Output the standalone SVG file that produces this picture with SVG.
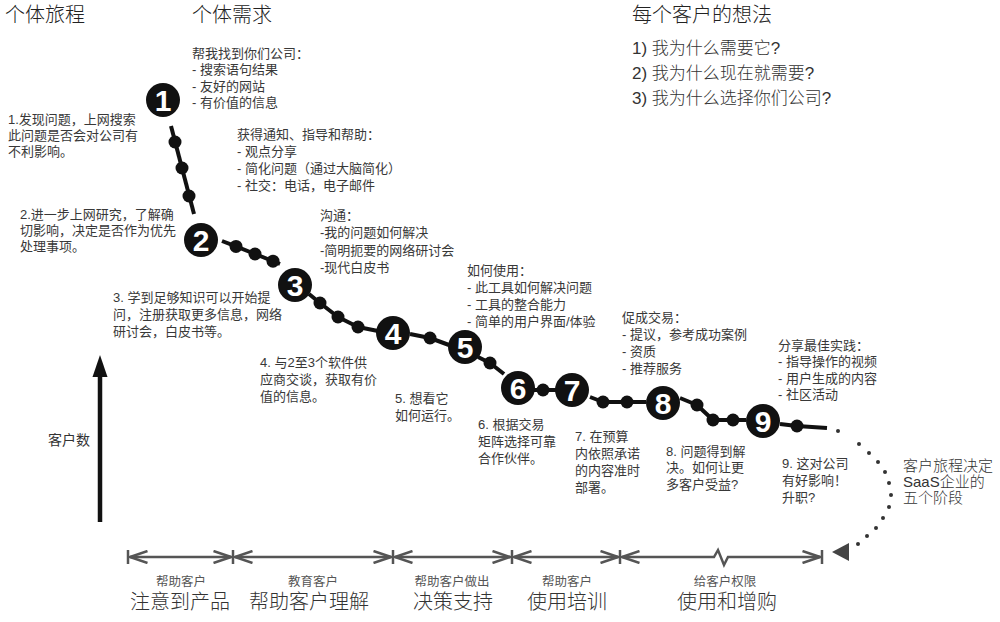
<svg xmlns="http://www.w3.org/2000/svg" width="1000" height="622" viewBox="0 0 1000 622">
<defs>
<style>
text{font-family:"Liberation Sans","Noto Sans CJK SC",sans-serif;}
.h{font-size:20px;fill:#222;font-weight:300;}
.q{font-size:17px;fill:#333;font-weight:300;}
.t{font-size:13px;fill:#383838;}
.r{font-size:15px;fill:#333;font-weight:300;}
.s{font-size:12.5px;fill:#555;text-anchor:middle;}
.b{font-size:20px;fill:#333;text-anchor:middle;font-weight:300;}
.node{fill:#111;}
.num{font-size:30px;font-weight:bold;fill:#fff;text-anchor:middle;}
.chain{fill:none;stroke:#111;stroke-width:4;stroke-linejoin:round;}
.bead{fill:#111;}
.span{fill:none;stroke:#555;stroke-width:2.5;marker-start:url(#chev);marker-end:url(#chev);}
.tick{stroke:#555;stroke-width:2.5;}
.dot{fill:#333;}
</style>
<marker id="chev" viewBox="0 0 20 14" markerUnits="userSpaceOnUse" markerWidth="20" markerHeight="14" refX="18.5" refY="7" orient="auto-start-reverse">
<path d="M1,1 L18.5,7 L1,13" fill="none" stroke="#555" stroke-width="2.5"/>
</marker>
</defs>
<rect width="1000" height="622" fill="#fff"/>

<g id="headings">
<text class="h" x="5" y="22">个体旅程</text>
<text class="h" x="192" y="22">个体需求</text>
<text class="h" x="632" y="22">每个客户的想法</text>
<text class="q" x="632" y="54">1) 我为什么需要它?</text>
<text class="q" x="632" y="79">2) 我为什么现在就需要?</text>
<text class="q" x="632" y="104">3) 我为什么选择你们公司?</text>
</g>

<g id="connectors">
<path class="chain" d="M171,126 L194,214"/>
<path class="chain" d="M222,241 L236,246.4 L255,254 L280,264"/>
<path class="chain" d="M309,294 L320,303 L338,317 L358,327 L378,331"/>
<path class="chain" d="M410,334 L430,338 L449,345"/>
<path class="chain" d="M478,357 L490,363 L504,374"/>
<path class="chain" d="M534,390 L556,390"/>
<path class="chain" d="M590,397 L603,402 L646,402"/>
<path class="chain" d="M680,398 L697,405 L713,420 L746,420"/>
<path class="chain" d="M780,424 L797,426 L827,428"/>
<circle class="bead" cx="175" cy="142" r="6.5"/>
<circle class="bead" cx="182" cy="168" r="6.5"/>
<circle class="bead" cx="189" cy="196" r="6.5"/>
<circle class="bead" cx="236" cy="246.4" r="6.5"/>
<circle class="bead" cx="255" cy="254" r="6.5"/>
<circle class="bead" cx="273" cy="261.2" r="6.5"/>
<circle class="bead" cx="320" cy="303" r="6.5"/>
<circle class="bead" cx="338" cy="317" r="6.5"/>
<circle class="bead" cx="358" cy="327" r="6.5"/>
<circle class="bead" cx="430" cy="338" r="6.5"/>
<circle class="bead" cx="490" cy="363" r="6.5"/>
<circle class="bead" cx="543" cy="390" r="6.5"/>
<circle class="bead" cx="603" cy="402" r="6.5"/>
<circle class="bead" cx="627" cy="402" r="6.5"/>
<circle class="bead" cx="697" cy="405" r="6.5"/>
<circle class="bead" cx="713" cy="420" r="6.5"/>
<circle class="bead" cx="733" cy="420" r="6.5"/>
<circle class="bead" cx="797" cy="426" r="6.5"/>
<g id="dotted-return">
<circle class="dot" cx="838" cy="431" r="2"/>
<circle class="dot" cx="859" cy="444" r="2"/>
<circle class="dot" cx="869" cy="453" r="2"/>
<circle class="dot" cx="878" cy="462" r="2"/>
<circle class="dot" cx="885" cy="472" r="2"/>
<circle class="dot" cx="889" cy="483" r="2"/>
<circle class="dot" cx="891" cy="495" r="2"/>
<circle class="dot" cx="889" cy="507" r="2"/>
<circle class="dot" cx="883" cy="518" r="2"/>
<circle class="dot" cx="876" cy="528" r="2"/>
<circle class="dot" cx="867" cy="536" r="2"/>
<circle class="dot" cx="858" cy="544" r="2"/>
<polygon points="832,552 849,543 849,561" fill="#444"/>
</g>
</g>

<g id="step1"><circle class="node" cx="163" cy="100" r="17"/><text class="num" x="163" y="111">1</text></g>
<g id="step2"><circle class="node" cx="201" cy="240" r="17"/><text class="num" x="201" y="251">2</text></g>
<g id="step3"><circle class="node" cx="295" cy="285" r="17"/><text class="num" x="295" y="296">3</text></g>
<g id="step4"><circle class="node" cx="393" cy="333" r="17"/><text class="num" x="393" y="344">4</text></g>
<g id="step5"><circle class="node" cx="465" cy="347" r="17"/><text class="num" x="465" y="358">5</text></g>
<g id="step6"><circle class="node" cx="518" cy="388" r="17"/><text class="num" x="518" y="399">6</text></g>
<g id="step7"><circle class="node" cx="572" cy="390" r="17"/><text class="num" x="572" y="401">7</text></g>
<g id="step8"><circle class="node" cx="663" cy="403" r="17"/><text class="num" x="663" y="414">8</text></g>
<g id="step9"><circle class="node" cx="763" cy="421" r="17"/><text class="num" x="763" y="432">9</text></g>

<g id="need1">
<text class="t" x="192" y="58">帮我找到你们公司：</text>
<text class="t" x="192" y="74">- 搜索语句结果</text>
<text class="t" x="192" y="91">- 友好的网站</text>
<text class="t" x="192" y="107">- 有价值的信息</text>
</g>
<g id="need2">
<text class="t" x="237" y="139">获得通知、指导和帮助：</text>
<text class="t" x="237" y="156">- 观点分享</text>
<text class="t" x="237" y="173">- 简化问题（通过大脑简化）</text>
<text class="t" x="237" y="190">- 社交：电话，电子邮件</text>
</g>
<g id="need3">
<text class="t" x="320" y="220">沟通：</text>
<text class="t" x="320" y="237">-我的问题如何解决</text>
<text class="t" x="320" y="255">-简明扼要的网络研讨会</text>
<text class="t" x="320" y="272">-现代白皮书</text>
</g>
<g id="need4">
<text class="t" x="467" y="275">如何使用：</text>
<text class="t" x="467" y="292">- 此工具如何解决问题</text>
<text class="t" x="467" y="309">- 工具的整合能力</text>
<text class="t" x="467" y="326">- 简单的用户界面/体验</text>
</g>
<g id="need5">
<text class="t" x="622" y="322">促成交易：</text>
<text class="t" x="622" y="339">- 提议，参考成功案例</text>
<text class="t" x="622" y="356">- 资质</text>
<text class="t" x="622" y="373">- 推荐服务</text>
</g>
<g id="need6">
<text class="t" x="778" y="350">分享最佳实践：</text>
<text class="t" x="778" y="366">- 指导操作的视频</text>
<text class="t" x="778" y="383">- 用户生成的内容</text>
<text class="t" x="778" y="399">- 社区活动</text>
</g>

<g id="journey1">
<text class="t" x="8" y="124">1.发现问题，上网搜索</text>
<text class="t" x="8" y="140">此问题是否会对公司有</text>
<text class="t" x="8" y="156">不利影响。</text>
</g>
<g id="journey2">
<text class="t" x="20" y="219">2.进一步上网研究，了解确</text>
<text class="t" x="20" y="235">切影响，决定是否作为优先</text>
<text class="t" x="20" y="251">处理事项。</text>
</g>
<g id="journey3">
<text class="t" x="113" y="302">3. 学到足够知识可以开始提</text>
<text class="t" x="113" y="319">问，注册获取更多信息，网络</text>
<text class="t" x="113" y="336">研讨会，白皮书等。</text>
</g>
<g id="journey4">
<text class="t" x="260" y="367">4. 与2至3个软件供</text>
<text class="t" x="260" y="384">应商交谈，获取有价</text>
<text class="t" x="260" y="401">值的信息。</text>
</g>
<g id="journey5">
<text class="t" x="395" y="403">5. 想看它</text>
<text class="t" x="395" y="420">如何运行。</text>
</g>
<g id="journey6">
<text class="t" x="478" y="429">6. 根据交易</text>
<text class="t" x="478" y="446">矩阵选择可靠</text>
<text class="t" x="478" y="463">合作伙伴。</text>
</g>
<g id="journey7">
<text class="t" x="575" y="441">7. 在预算</text>
<text class="t" x="575" y="458">内依照承诺</text>
<text class="t" x="575" y="475">的内容准时</text>
<text class="t" x="575" y="492">部署。</text>
</g>
<g id="journey8">
<text class="t" x="666" y="456">8. 问题得到解</text>
<text class="t" x="666" y="472">决。如何让更</text>
<text class="t" x="666" y="489">多客户受益?</text>
</g>
<g id="journey9">
<text class="t" x="782" y="468">9. 这对公司</text>
<text class="t" x="782" y="485">有好影响！</text>
<text class="t" x="782" y="502">升职?</text>
</g>
<g id="summary">
<text class="r" x="903" y="471">客户旅程决定</text>
<text class="r" x="903" y="487">SaaS企业的</text>
<text class="r" x="903" y="503">五个阶段</text>
</g>

<g id="y-axis">
<line x1="100" y1="522" x2="100" y2="372" stroke="#111" stroke-width="4.5"/>
<polygon points="100,355 92.5,377 107.5,377" fill="#111"/>
<text x="48" y="445" style="font-size:14px;fill:#333">客户数</text>
</g>

<g id="stages">
<line class="tick" x1="128" y1="550" x2="128" y2="564"/>
<line class="tick" x1="233" y1="550" x2="233" y2="564"/>
<line class="tick" x1="393" y1="550" x2="393" y2="564"/>
<line class="tick" x1="512" y1="550" x2="512" y2="564"/>
<line class="tick" x1="620" y1="550" x2="620" y2="564"/>
<line class="tick" x1="822" y1="550" x2="822" y2="564"/>
<path class="span" d="M130,557 L231,557"/>
<path class="span" d="M235,557 L391,557"/>
<path class="span" d="M395,557 L510,557"/>
<path class="span" d="M514,557 L618,557"/>
<path class="span" d="M622,557 L714,557 L718,550 L724,565 L728,557 L820,557"/>
<text class="s" x="181" y="586">帮助客户</text>
<text class="b" x="180" y="609">注意到产品</text>
<text class="s" x="313" y="586">教育客户</text>
<text class="b" x="309" y="609">帮助客户理解</text>
<text class="s" x="452" y="586">帮助客户做出</text>
<text class="b" x="453" y="609">决策支持</text>
<text class="s" x="567" y="586">帮助客户</text>
<text class="b" x="567" y="609">使用培训</text>
<text class="s" x="725" y="586">给客户权限</text>
<text class="b" x="727" y="609">使用和增购</text>
</g>
</svg>
